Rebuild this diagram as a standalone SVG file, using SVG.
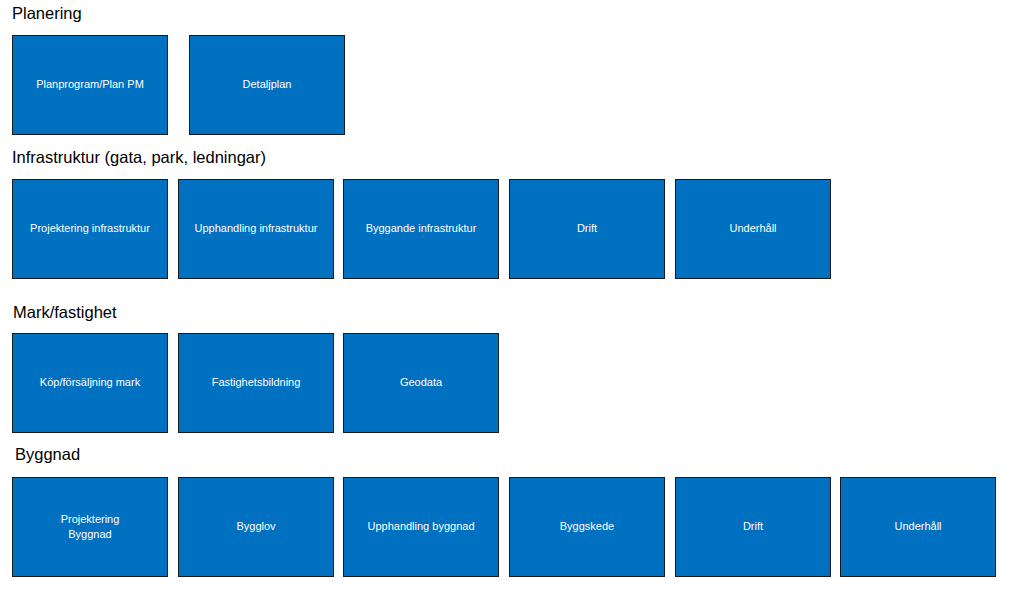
<svg xmlns="http://www.w3.org/2000/svg" width="1024" height="592" viewBox="0 0 1024 592">
<style>
.h{font-family:"Liberation Sans",Arial,sans-serif;font-size:16.5px;fill:#000}
.b rect{fill:#0070C0;stroke:#1a1a1a;stroke-width:1}
.b text{font-family:"Liberation Sans",Arial,sans-serif;font-size:11px;fill:#fff;text-anchor:middle;dominant-baseline:middle}
</style>
<rect width="1024" height="592" fill="#fff"/>
<text class="h" x="12" y="19">Planering</text>
<text class="h" x="12" y="163">Infrastruktur (gata, park, ledningar)</text>
<text class="h" x="13" y="318">Mark/fastighet</text>
<text class="h" x="15" y="460">Byggnad</text>
<g class="b" id="n1"><rect x="12.5" y="35.5" width="155" height="99"/><text x="90" y="85">Planprogram/Plan PM</text></g>
<g class="b" id="n2"><rect x="189.5" y="35.5" width="155" height="99"/><text x="267" y="85">Detaljplan</text></g>
<g class="b" id="n3"><rect x="12.5" y="179.5" width="155" height="99"/><text x="90" y="229">Projektering infrastruktur</text></g>
<g class="b" id="n4"><rect x="178.5" y="179.5" width="155" height="99"/><text x="256" y="229">Upphandling infrastruktur</text></g>
<g class="b" id="n5"><rect x="343.5" y="179.5" width="155" height="99"/><text x="421" y="229">Byggande infrastruktur</text></g>
<g class="b" id="n6"><rect x="509.5" y="179.5" width="155" height="99"/><text x="587" y="229">Drift</text></g>
<g class="b" id="n7"><rect x="675.5" y="179.5" width="155" height="99"/><text x="753" y="229">Underhåll</text></g>
<g class="b" id="n8"><rect x="12.5" y="333.5" width="155" height="99"/><text x="90" y="383">Köp/försäljning mark</text></g>
<g class="b" id="n9"><rect x="178.5" y="333.5" width="155" height="99"/><text x="256" y="383">Fastighetsbildning</text></g>
<g class="b" id="n10"><rect x="343.5" y="333.5" width="155" height="99"/><text x="421" y="383">Geodata</text></g>
<g class="b" id="n11"><rect x="12.5" y="477.5" width="155" height="99"/><text x="90" y="520">Projektering</text><text x="90" y="535">Byggnad</text></g>
<g class="b" id="n12"><rect x="178.5" y="477.5" width="155" height="99"/><text x="256" y="527">Bygglov</text></g>
<g class="b" id="n13"><rect x="343.5" y="477.5" width="155" height="99"/><text x="421" y="527">Upphandling byggnad</text></g>
<g class="b" id="n14"><rect x="509.5" y="477.5" width="155" height="99"/><text x="587" y="527">Byggskede</text></g>
<g class="b" id="n15"><rect x="675.5" y="477.5" width="155" height="99"/><text x="753" y="527">Drift</text></g>
<g class="b" id="n16"><rect x="840.5" y="477.5" width="155" height="99"/><text x="918" y="527">Underhåll</text></g>
<g id="connectors"/>
</svg>
